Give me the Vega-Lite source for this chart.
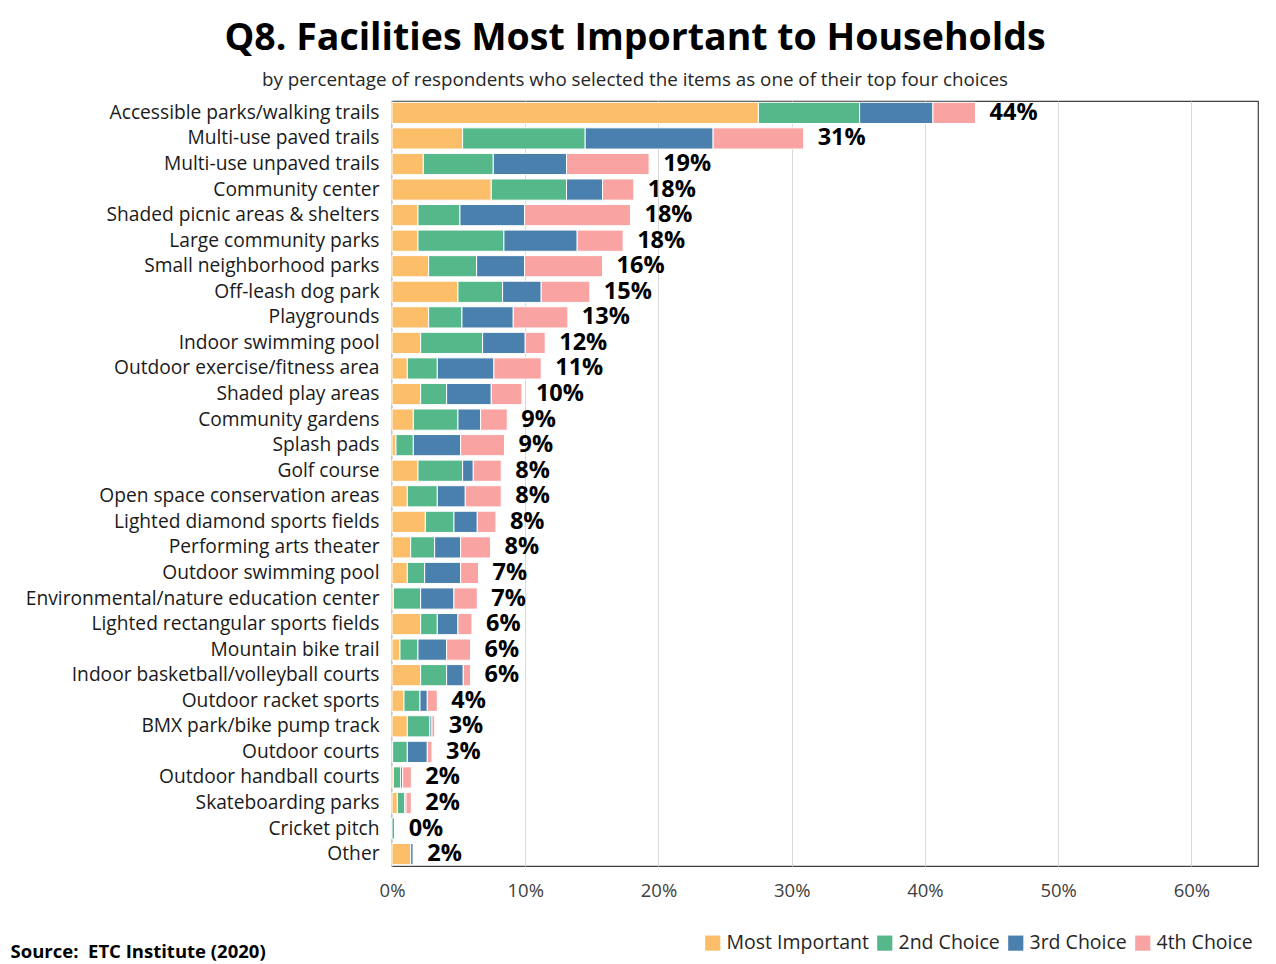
{
  "$schema": "https://vega.github.io/schema/vega-lite/v6.json",
  "autosize": {"type": "none"},
  "padding": {"left": 392, "top": 101, "right": 18, "bottom": 98},
  "width": 866,
  "height": 765,
  "background": "white",
  "title": {
    "text": "Q8. Facilities Most Important to Households",
    "subtitle": "by percentage of respondents who selected the items as one of their top four choices",
    "anchor": "middle",
    "dx": -190,
    "font": "Open Sans",
    "fontSize": 37.5,
    "fontWeight": "bold",
    "color": "black",
    "subtitleFont": "Open Sans",
    "subtitleFontSize": 18.8,
    "subtitleColor": "#262626",
    "offset": 11,
    "subtitlePadding": 14
  },
  "data": {
    "values": [
      {"facility": "Accessible parks/walking trails", "p1": 27.5, "p2": 7.6, "p3": 5.5, "p4": 3.2, "label": "44%"},
      {"facility": "Multi-use paved trails", "p1": 5.3, "p2": 9.2, "p3": 9.6, "p4": 6.8, "label": "31%"},
      {"facility": "Multi-use unpaved trails", "p1": 2.35, "p2": 5.25, "p3": 5.5, "p4": 6.2, "label": "19%"},
      {"facility": "Community center", "p1": 7.45, "p2": 5.65, "p3": 2.7, "p4": 2.35, "label": "18%"},
      {"facility": "Shaded picnic areas & shelters", "p1": 1.95, "p2": 3.15, "p3": 4.85, "p4": 7.95, "label": "18%"},
      {"facility": "Large community parks", "p1": 1.95, "p2": 6.45, "p3": 5.5, "p4": 3.45, "label": "18%"},
      {"facility": "Small neighborhood parks", "p1": 2.75, "p2": 3.6, "p3": 3.6, "p4": 5.85, "label": "16%"},
      {"facility": "Off-leash dog park", "p1": 4.95, "p2": 3.35, "p3": 2.9, "p4": 3.65, "label": "15%"},
      {"facility": "Playgrounds", "p1": 2.75, "p2": 2.5, "p3": 3.85, "p4": 4.1, "label": "13%"},
      {"facility": "Indoor swimming pool", "p1": 2.15, "p2": 4.65, "p3": 3.2, "p4": 1.5, "label": "12%"},
      {"facility": "Outdoor exercise/fitness area", "p1": 1.15, "p2": 2.25, "p3": 4.25, "p4": 3.55, "label": "11%"},
      {"facility": "Shaded play areas", "p1": 2.15, "p2": 1.95, "p3": 3.35, "p4": 2.3, "label": "10%"},
      {"facility": "Community gardens", "p1": 1.6, "p2": 3.35, "p3": 1.7, "p4": 2.0, "label": "9%"},
      {"facility": "Splash pads", "p1": 0.3, "p2": 1.3, "p3": 3.55, "p4": 3.3, "label": "9%"},
      {"facility": "Golf course", "p1": 1.95, "p2": 3.35, "p3": 0.8, "p4": 2.1, "label": "8%"},
      {"facility": "Open space conservation areas", "p1": 1.15, "p2": 2.25, "p3": 2.1, "p4": 2.7, "label": "8%"},
      {"facility": "Lighted diamond sports fields", "p1": 2.5, "p2": 2.15, "p3": 1.75, "p4": 1.4, "label": "8%"},
      {"facility": "Performing arts theater", "p1": 1.4, "p2": 1.8, "p3": 1.95, "p4": 2.25, "label": "8%"},
      {"facility": "Outdoor swimming pool", "p1": 1.15, "p2": 1.3, "p3": 2.7, "p4": 1.35, "label": "7%"},
      {"facility": "Environmental/nature education center", "p1": 0.1, "p2": 2.05, "p3": 2.5, "p4": 1.75, "label": "7%"},
      {"facility": "Lighted rectangular sports fields", "p1": 2.15, "p2": 1.25, "p3": 1.55, "p4": 1.05, "label": "6%"},
      {"facility": "Mountain bike trail", "p1": 0.6, "p2": 1.35, "p3": 2.15, "p4": 1.8, "label": "6%"},
      {"facility": "Indoor basketball/volleyball courts", "p1": 2.15, "p2": 1.95, "p3": 1.25, "p4": 0.55, "label": "6%"},
      {"facility": "Outdoor racket sports", "p1": 0.9, "p2": 1.2, "p3": 0.55, "p4": 0.75, "label": "4%"},
      {"facility": "BMX park/bike pump track", "p1": 1.15, "p2": 1.7, "p3": 0.15, "p4": 0.2, "label": "3%"},
      {"facility": "Outdoor courts", "p1": 0.05, "p2": 1.1, "p3": 1.5, "p4": 0.35, "label": "3%"},
      {"facility": "Outdoor handball courts", "p1": 0.1, "p2": 0.55, "p3": 0.15, "p4": 0.65, "label": "2%"},
      {"facility": "Skateboarding parks", "p1": 0.4, "p2": 0.55, "p3": 0.1, "p4": 0.4, "label": "2%"},
      {"facility": "Cricket pitch", "p1": 0, "p2": 0.2, "p3": 0, "p4": 0, "label": "0%"},
      {"facility": "Other", "p1": 1.4, "p2": 0, "p3": 0.2, "p4": 0, "label": "2%"}
    ]
  },
  "transform": [{"fold": ["p1", "p2", "p3", "p4"], "as": ["choice", "pct"]}],
  "encoding": {
    "y": {
      "field": "facility",
      "type": "nominal",
      "sort": null,
      "title": null,
      "scale": {"paddingInner": 0.17, "paddingOuter": 0.05}
    }
  },
  "layer": [
    {
      "mark": {"type": "bar", "stroke": "white", "strokeWidth": 1},
      "encoding": {
        "x": {
          "field": "pct",
          "type": "quantitative",
          "stack": "zero",
          "title": "Source:\u00a0 ETC Institute (2020)",
          "scale": {"domain": [0, 65], "nice": false},
          "axis": {"values": [0, 10, 20, 30, 40, 50, 60]}
        },
        "color": {
          "field": "choice",
          "type": "nominal",
          "scale": {"domain": ["p1", "p2", "p3", "p4"], "range": ["#FDBE6A", "#55B88A", "#4A80AE", "#F9A3A3"]},
          "legend": {
            "orient": "none",
            "legendX": 311,
            "legendY": 832,
            "direction": "horizontal",
            "title": null,
            "symbolType": "square",
            "symbolSize": 230,
            "symbolStrokeWidth": 0,
            "labelFont": "Open Sans",
            "labelFontSize": 19.5,
            "labelColor": "#262626",
            "columnPadding": 6,
            "labelOffset": 4,
            "labelExpr": "datum.label == 'p1' ? 'Most Important' : datum.label == 'p2' ? '2nd Choice' : datum.label == 'p3' ? '3rd Choice' : '4th Choice'"
          }
        },
        "order": {"field": "choice", "type": "ordinal"}
      }
    },
    {
      "mark": {"type": "text", "align": "left", "baseline": "middle", "dx": 14, "fontWeight": "bold", "fontSize": 23.5, "font": "Open Sans", "color": "black"},
      "encoding": {
        "x": {"aggregate": "sum", "field": "pct", "type": "quantitative", "title": "Source:\u00a0 ETC Institute (2020)", "axis": {"values": [0, 10, 20, 30, 40, 50, 60]}},
        "text": {"field": "label", "type": "nominal"}
      }
    }
  ],
  "config": {
    "view": {"stroke": "#404040", "strokeWidth": 1.2},
    "axisX": {
      "grid": true,
      "gridColor": "#d9d9d9",
      "gridWidth": 1,
      "domain": false,
      "ticks": false,
      "labelFlush": false,
      "labelExpr": "datum.value + '%'",
      "labelFont": "Open Sans",
      "labelFontSize": 18.5,
      "labelColor": "#404040",
      "labelPadding": 15,
      "titleAnchor": "start",
      "titleAlign": "left",
      "titleBaseline": "alphabetic",
      "titleX": -382,
      "titleY": 91,
      "titleFont": "Open Sans",
      "titleFontWeight": "bold",
      "titleFontSize": 18.5,
      "titleColor": "black"
    },
    "axisY": {
      "domain": false,
      "ticks": false,
      "grid": false,
      "labelFont": "Open Sans",
      "labelFontSize": 19.2,
      "labelColor": "#1a1a1a",
      "labelPadding": 13,
      "labelLimit": 400
    }
  }
}
